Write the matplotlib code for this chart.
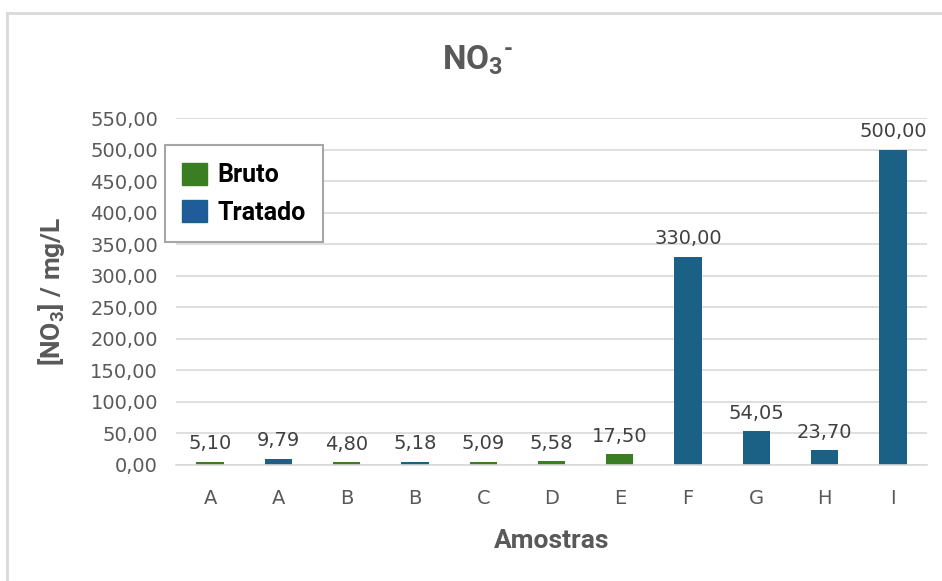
import matplotlib.pyplot as plt
from matplotlib.patches import Patch
from matplotlib.lines import Line2D

# data
categories = ['A', 'A', 'B', 'B', 'C', 'D', 'E', 'F', 'G', 'H', 'I']
values = [5.10, 9.79, 4.80, 5.18, 5.09, 5.58, 17.50, 330.00, 54.05, 23.70, 500.00]
groups = ['Bruto', 'Tratado', 'Bruto', 'Tratado', 'Bruto', 'Bruto', 'Bruto',
          'Tratado', 'Tratado', 'Tratado', 'Tratado']
yticks = [0, 50, 100, 150, 200, 250, 300, 350, 400, 450, 500, 550]

GREEN = '#3b7d23'
BLUE = '#1b6185'
GRID = '#d9d9d9'
TEXT = '#595959'

plt.rcParams['font.family'] = ['Roboto', 'DejaVu Sans']
plt.rcParams['mathtext.default'] = 'regular'

fig = plt.figure(figsize=(9.42, 5.81), dpi=100)
ax = fig.add_axes([176 / 942, 116 / 581, 751 / 942, 347 / 581])

colors = [GREEN if g == 'Bruto' else BLUE for g in groups]
x = range(len(categories))
bars = ax.bar(x, values, width=0.4, color=colors, zorder=3)

for bar, v in zip(bars, values):
    ax.annotate(f'{v:.2f}'.replace('.', ','),
                (bar.get_x() + bar.get_width() / 2, bar.get_height()),
                xytext=(0, 6), textcoords='offset points',
                ha='center', va='bottom', fontsize=14, color='#404040',
                family='DejaVu Sans')

ax.set_xlim(-0.5, len(categories) - 0.5)
ax.set_ylim(0, 550)
ax.set_yticks(yticks)
ax.set_yticklabels([f'{t:.2f}'.replace('.', ',') for t in yticks])
ax.set_xticks(list(x))
ax.set_xticklabels(categories)
for lbl in ax.get_xticklabels() + ax.get_yticklabels():
    lbl.set_family('DejaVu Sans')
ax.tick_params(axis='both', length=0, labelsize=14, labelcolor=TEXT)
ax.tick_params(axis='x', pad=17)
ax.tick_params(axis='y', pad=13)
ax.grid(axis='y', color=GRID, linewidth=1.2, zorder=0)
for s in ['top', 'right', 'left']:
    ax.spines[s].set_visible(False)
ax.spines['bottom'].set_color(GRID)
ax.spines['bottom'].set_linewidth(1.2)
ax.spines['bottom'].set_zorder(4)

ax.set_xlabel('Amostras', fontsize=19, fontweight='bold', color=TEXT)
ax.xaxis.set_label_coords(0.5, -0.185)
ax.set_ylabel('[NO$_3$] / mg/L', fontsize=19, fontweight='bold', color=TEXT)
ax.yaxis.set_label_coords(-0.166, 0.5)
ax.yaxis.label.set_va('center')

fig.text(478 / 942, 1 - 60 / 581, 'NO$_3$$^{\u2010}$', ha='center', va='center',
         fontsize=24, fontweight='bold', color=TEXT)

handles = [Patch(facecolor=GREEN, edgecolor=GREEN, label='Bruto'),
           Patch(facecolor='#1f5c99', edgecolor=BLUE, label='Tratado')]
leg = ax.legend(handles=handles, loc='upper left', bbox_to_anchor=(-0.015, 0.922),
                prop={'weight': 'bold', 'size': 18}, fancybox=False, framealpha=1,
                edgecolor='#a6a6a6', handlelength=1.0, handleheight=1.0,
                handletextpad=0.4, borderpad=0.7, labelspacing=0.5, borderaxespad=0)
leg.get_frame().set_linewidth(1.5)
for t in leg.get_texts():
    t.set_color('black')

# outer chart border (left and top edges visible)
fig.add_artist(Line2D([7 / 942, 7 / 942], [0, 1 - 13 / 581], color=GRID, linewidth=2,
                      transform=fig.transFigure))
fig.add_artist(Line2D([7 / 942, 1], [1 - 13 / 581, 1 - 13 / 581], color=GRID, linewidth=2,
                      transform=fig.transFigure))

fig.savefig('out.png', dpi=100)
